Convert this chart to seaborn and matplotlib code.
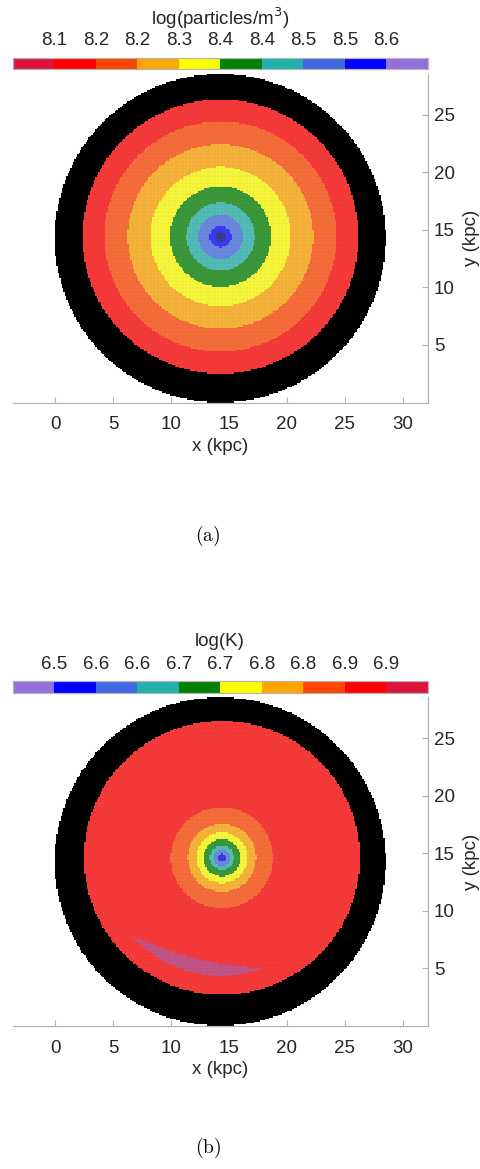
import numpy as np
import matplotlib
matplotlib.use("Agg")
import matplotlib.pyplot as plt
import seaborn as sns
from matplotlib.colors import ListedColormap, BoundaryNorm, to_rgb
from matplotlib.cm import ScalarMappable

sns.set_theme(style="white")
plt.rcParams["font.family"] = ["Liberation Sans", "DejaVu Sans"]

# ---------------- data ----------------
x_ticks = [0, 5, 10, 15, 20, 25, 30]
y_ticks = [5, 10, 15, 20, 25]

# panel (a): density
density_title = r"log(particles/m$^3$)"
density_cbar_colors = ["crimson", "red", "orangered", "orange", "yellow",
                       "green", "lightseagreen", "royalblue", "blue", "mediumpurple"]
density_tick_labels = ["8.1", "8.2", "8.2", "8.3", "8.4", "8.4", "8.5", "8.5", "8.6"]
density_ring_radii = [0.45, 0.93, 1.93, 2.95, 4.35, 6.05, 8.0, 10.0, 11.9]
density_ring_colors = ["navy", "blue", "royalblue", "lightseagreen", "green",
                       "yellow", "orange", "orangered", "red"]
density_ring_center = [14.28, 14.42]

# panel (b): temperature
temp_title = "log(K)"
temp_cbar_colors = ["mediumpurple", "blue", "royalblue", "lightseagreen", "green",
                    "yellow", "orange", "orangered", "red", "crimson"]
temp_tick_labels = ["6.5", "6.6", "6.6", "6.7", "6.7", "6.8", "6.8", "6.9", "6.9"]
temp_ring_radii = [0.35, 0.7, 1.05, 1.6, 2.2, 2.95, 4.4, 11.9]
temp_ring_colors = ["mediumblue", "royalblue", "lightseagreen", "green",
                    "yellow", "orange", "orangered", "red"]
temp_ring_center = [14.4, 14.6]
# cool crescent: inside circle A and outside circle B
crescent_a = [14.3, 14.5, 10.15]
crescent_b = [19.6, 35.6, 30.65]
crescent_color = "mediumpurple"

# black outer disk
disk_center = [14.25, 14.28]
disk_radius = 14.27

ALPHA = 0.76          # transparency of the surface over white
CRESCENT_ALPHA = 0.5  # transparency of the cool crescent
STEP = 0.12
xe = np.arange(-0.12, 28.8 + 1e-9, STEP)
ye = np.arange(-0.12, 28.8 + 1e-9, STEP)
xc = (xe[:-1] + xe[1:]) / 2
yc = (ye[:-1] + ye[1:]) / 2
XX, YY = np.meshgrid(xc, yc)

W, H = 480, 1169
fig = plt.figure(figsize=(W / 100, H / 100), dpi=100)
fig.patch.set_facecolor("white")

SPINE = "#b3b3b3"
TXT = "#262626"
FS = 13.5


def fy(py):
    return 1 - py / H


def over(c, a, base=(1, 1, 1)):
    c = np.array(to_rgb(c))
    return tuple(a * c + (1 - a) * np.array(base))


def draw_panel(off, ring_radii, ring_colors, ring_center, cbar_colors,
               tick_labels, title, caption, cap_y, crescent=None):
    ax = fig.add_axes([12.7 / W, fy(402.5 + off), 415.6 / W, 328.5 / H])
    r = np.hypot(XX - ring_center[0], YY - ring_center[1])
    idx = np.searchsorted(ring_radii, r).astype(float)
    rd = np.hypot(XX - disk_center[0], YY - disk_center[1])
    cols = [over(c, ALPHA) for c in ring_colors] + [(0, 0, 0)]
    if crescent is not None:
        a, b, col = crescent
        m = (np.hypot(XX - a[0], YY - a[1]) < a[2]) & \
            (np.hypot(XX - b[0], YY - b[1]) > b[2]) & (idx < len(ring_colors))
        under = cols[len(ring_colors) - 1]
        cols.append(over(col, CRESCENT_ALPHA, under))
        idx[m] = len(cols) - 1
    outside = rd > disk_radius
    idx[outside] = np.nan
    mesh = ax.pcolormesh(xe, ye, np.ma.masked_invalid(idx), cmap=ListedColormap(cols),
                         vmin=-0.5, vmax=len(cols) - 0.5, shading="flat",
                         linewidth=0.25, antialiased=True)
    ec = np.zeros((idx.size, 4))
    ec[:, 3] = np.where(outside.ravel(), 0.0, 0.07)
    mesh.set_edgecolor(ec)
    ax.set_xlim(-3.65, 32.2)
    ax.set_ylim(0, 28.55)
    ax.set_xticks(x_ticks)
    ax.set_yticks(y_ticks)
    ax.yaxis.tick_right()
    ax.yaxis.set_label_position("right")
    for s in ["top", "left"]:
        ax.spines[s].set_visible(False)
    for s in ["bottom", "right"]:
        ax.spines[s].set_visible(True)
        ax.spines[s].set_color(SPINE)
        ax.spines[s].set_linewidth(0.9)
    ax.tick_params(axis="both", direction="in", length=4, width=0.8, color=SPINE,
                   labelsize=FS, labelcolor=TXT)
    ax.tick_params(axis="x", bottom=True, top=False, pad=10)
    ax.tick_params(axis="y", right=True, left=False, labelright=True, labelleft=False, pad=4)
    ax.set_xlabel("x (kpc)", fontsize=FS, color=TXT, labelpad=3)
    ax.set_ylabel("y (kpc)", fontsize=FS, color=TXT, labelpad=6)
    ax.grid(False)

    cax = fig.add_axes([12.7 / W, fy(69.3 + off), 415.3 / W, 11.6 / H])
    n = len(cbar_colors)
    sm = ScalarMappable(norm=BoundaryNorm(np.arange(n + 1), n),
                        cmap=ListedColormap(cbar_colors))
    cb = fig.colorbar(sm, cax=cax, orientation="horizontal", ticklocation="top")
    cb.set_ticks(np.arange(1, n))
    cb.set_ticklabels(tick_labels)
    cb.minorticks_off()
    cax.tick_params(which="both", length=0, pad=6, labelsize=FS, labelcolor=TXT)
    cb.outline.set_edgecolor(SPINE)
    cb.outline.set_linewidth(0.9)
    fig.text(220 / W, fy(18.3 + off), title, ha="center", va="center",
             fontsize=FS, color=TXT)
    fig.text(208 / W, fy(cap_y), r"$\mathrm{(" + caption + r")}$", math_fontfamily="cm",
             ha="center", va="center", fontsize=14, color="black")
    return ax


draw_panel(0, density_ring_radii, density_ring_colors, density_ring_center,
           density_cbar_colors, density_tick_labels, density_title, "a", 536)
draw_panel(623.3, temp_ring_radii, temp_ring_colors, temp_ring_center,
           temp_cbar_colors, temp_tick_labels, temp_title, "b", 1148,
           crescent=(crescent_a, crescent_b, crescent_color))

fig.savefig("out.png", dpi=100, facecolor="white")
